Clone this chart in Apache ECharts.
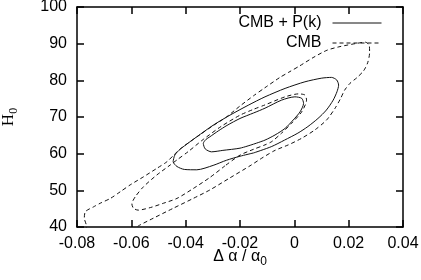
<!DOCTYPE html>
<html><head><meta charset="utf-8">
<script src="https://cdn.jsdelivr.net/npm/echarts@6/dist/echarts.min.js"></script>
<style>html,body{margin:0;padding:0;background:#fff}#c{width:421px;height:280px}</style>
</head><body><div id="c"></div>
<script>
// Legend / series names
const seriesNames = ['CMB + P(k)', 'CMB'];

// CMB + P(k), outer (95%) contour: [Δα/α0, H0]
const cmbPkOuter = [
  [-0.0150,60.2],[-0.0200,59.3],[-0.0250,58.2],[-0.0299,56.8],[-0.0359,55.6],
  [-0.0405,55.7],[-0.0432,56.5],[-0.0446,57.8],[-0.0440,59.6],[-0.0425,60.9],
  [-0.0405,62.1],[-0.0359,64.6],[-0.0298,67.8],[-0.0237,70.5],[-0.0170,73.2],
  [-0.0108,75.5],[-0.0034,77.8],[0.0039,79.6],[0.0101,80.6],[0.0137,80.8],
  [0.0156,80.1],[0.0163,78.7],[0.0157,76.9],[0.0143,74.6],[0.0118,71.9],
  [0.0087,69.6],[0.0050,67.4],[0.0013,65.6],[-0.0036,63.7],[-0.0085,61.9],
  [-0.0150,60.2]
];
// CMB + P(k), inner (68%) contour
const cmbPkInner = [
  [-0.0150,62.6],[-0.0200,61.5],[-0.0263,60.9],[-0.0305,60.5],[-0.0328,61.3],
  [-0.0335,62.8],[-0.0325,63.9],[-0.0311,64.6],[-0.0280,66.2],[-0.0248,67.7],
  [-0.0200,69.6],[-0.0150,71.1],[-0.0108,72.4],[-0.0047,74.6],[0.0002,75.5],
  [0.0027,75.1],[0.0034,73.7],[0.0021,71.4],[-0.0004,69.2],[-0.0034,66.9],
  [-0.0071,65.1],[-0.0108,63.7],[-0.0150,62.6]
];
// CMB only, outer (95%) contour (extends below the plotted range)
const cmbOuter = [
  [-0.0620,38.0],[-0.0574,40.3],[-0.0519,42.4],[-0.0446,45.1],[-0.0372,47.8],
  [-0.0311,50.1],[-0.0237,53.4],[-0.0163,56.7],[-0.0115,59.0],[-0.0071,60.9],
  [-0.0022,62.4],[0.0027,64.2],[0.0076,66.5],[0.0119,69.2],[0.0150,72.4],
  [0.0170,75.0],[0.0185,77.3],[0.0205,79.2],[0.0230,80.7],[0.0255,82.6],
  [0.0270,84.8],[0.0277,87.5],[0.0276,89.5],[0.0262,90.4],[0.0231,90.1],
  [0.0168,89.2],[0.0120,88.2],[0.0069,86.2],[0.0021,84.0],[-0.0016,82.4],
  [-0.0053,80.8],[-0.0108,78.0],[-0.0150,75.8],[-0.0200,73.0],[-0.0250,70.0],
  [-0.0300,67.6],[-0.0345,65.3],[-0.0385,63.2],[-0.0420,61.3],[-0.0444,59.6],
  [-0.0469,57.8],[-0.0506,56.0],[-0.0555,53.7],[-0.0604,51.5],[-0.0641,49.6],
  [-0.0677,47.8],[-0.0714,46.5],[-0.0739,45.5],[-0.0769,44.2],[-0.0773,42.4],
  [-0.0766,40.6],[-0.0764,38.0],[-0.0620,38.0]
];
// CMB only, inner (68%) contour
const cmbInner = [
  [-0.0255,56.7],[-0.0311,53.5],[-0.0372,50.5],[-0.0432,47.8],[-0.0481,46.5],
  [-0.0530,45.3],[-0.0575,44.6],[-0.0592,45.1],[-0.0598,46.3],[-0.0585,48.3],
  [-0.0555,51.0],[-0.0506,54.2],[-0.0457,56.9],[-0.0432,58.3],[-0.0390,60.6],
  [-0.0335,63.9],[-0.0270,67.4],[-0.0200,70.5],[-0.0150,72.1],[-0.0108,73.3],
  [-0.0034,75.5],[0.0015,76.3],[0.0039,76.0],[0.0045,74.6],[0.0027,71.4],
  [-0.0010,68.3],[-0.0047,65.6],[-0.0083,63.3],[-0.0108,62.4],[-0.0150,61.2],
  [-0.0200,59.6],[-0.0255,56.7]
];

// Axis ranges
const xRange = {min: -0.08, max: 0.04, interval: 0.02};
const yRange = {min: 40, max: 100, interval: 10};

const font = 'Liberation Sans, Arial, Helvetica, sans-serif';
const chart = echarts.init(document.getElementById('c'), null, {renderer: 'canvas'});

const lineAx = {show: true, onZero: false, lineStyle: {color: '#000', width: 1.5}};
const tickAx = {show: true, inside: true, length: 7, lineStyle: {color: '#000', width: 1.5}};
const lbl = {color: '#000', fontSize: 16, fontFamily: font};

function contour(name, data, dashed) {
  return {
    name: name, type: 'line', data: data, showSymbol: false, symbol: 'none',
    smooth: 0.25, clip: true, silent: true,
    lineStyle: {color: '#111', width: 1, type: dashed ? [4, 3] : 'solid'},
    itemStyle: {color: '#111'}
  };
}

chart.setOption({
  animation: false,
  backgroundColor: '#fff',
  grid: {left: 77, right: 18, top: 7, bottom: 53, containLabel: false, outerBoundsMode: 'none'},
  legend: {
    data: seriesNames, orient: 'vertical', align: 'right', right: 39, top: 15, padding: 0,
    itemWidth: 49, itemHeight: 14, itemGap: 4,
    itemStyle: {opacity: 0},
    lineStyle: {width: 1},
    textStyle: {color: '#000', fontSize: 16, fontFamily: font, padding: [0, 6, 0, 0]}
  },
  xAxis: [
    Object.assign({type: 'value', position: 'bottom',
      name: '{a|Δ α / α}{s|0}', nameLocation: 'middle', nameGap: 19, nameMoveOverlap: false,
      nameTextStyle: {color: '#000', fontFamily: font, rich: {
        a: {fontSize: 16, fontFamily: font, color: '#000', lineHeight: 22},
        s: {fontSize: 12, fontFamily: font, color: '#000', lineHeight: 12, verticalAlign: 'bottom'}}},
      axisLine: lineAx, axisTick: tickAx,
      axisLabel: Object.assign({margin: 9}, lbl), splitLine: {show: false}}, xRange),
    Object.assign({type: 'value', position: 'top', axisLine: lineAx, axisTick: tickAx,
      axisLabel: {show: false}, splitLine: {show: false}}, xRange)
  ],
  yAxis: [
    Object.assign({type: 'value', position: 'left',
      name: '{a|H}{s|0}', nameLocation: 'middle', nameGap: 57, nameMoveOverlap: false,
      nameTextStyle: {color: '#000', rich: {
        a: {fontSize: 17, fontFamily: 'Liberation Serif, Times New Roman, serif', color: '#000', lineHeight: 22},
        s: {fontSize: 12, fontFamily: 'Liberation Serif, Times New Roman, serif', color: '#000', lineHeight: 12, verticalAlign: 'bottom'}}},
      axisLine: lineAx, axisTick: tickAx,
      axisLabel: Object.assign({margin: 10}, lbl), splitLine: {show: false}}, yRange),
    Object.assign({type: 'value', position: 'right', axisLine: lineAx, axisTick: tickAx,
      axisLabel: {show: false}, splitLine: {show: false}}, yRange)
  ],
  series: [
    contour(seriesNames[0], cmbPkOuter, false),
    contour(seriesNames[0], cmbPkInner, false),
    contour(seriesNames[1], cmbOuter, true),
    contour(seriesNames[1], cmbInner, true)
  ]
});
</script>
</body></html>
